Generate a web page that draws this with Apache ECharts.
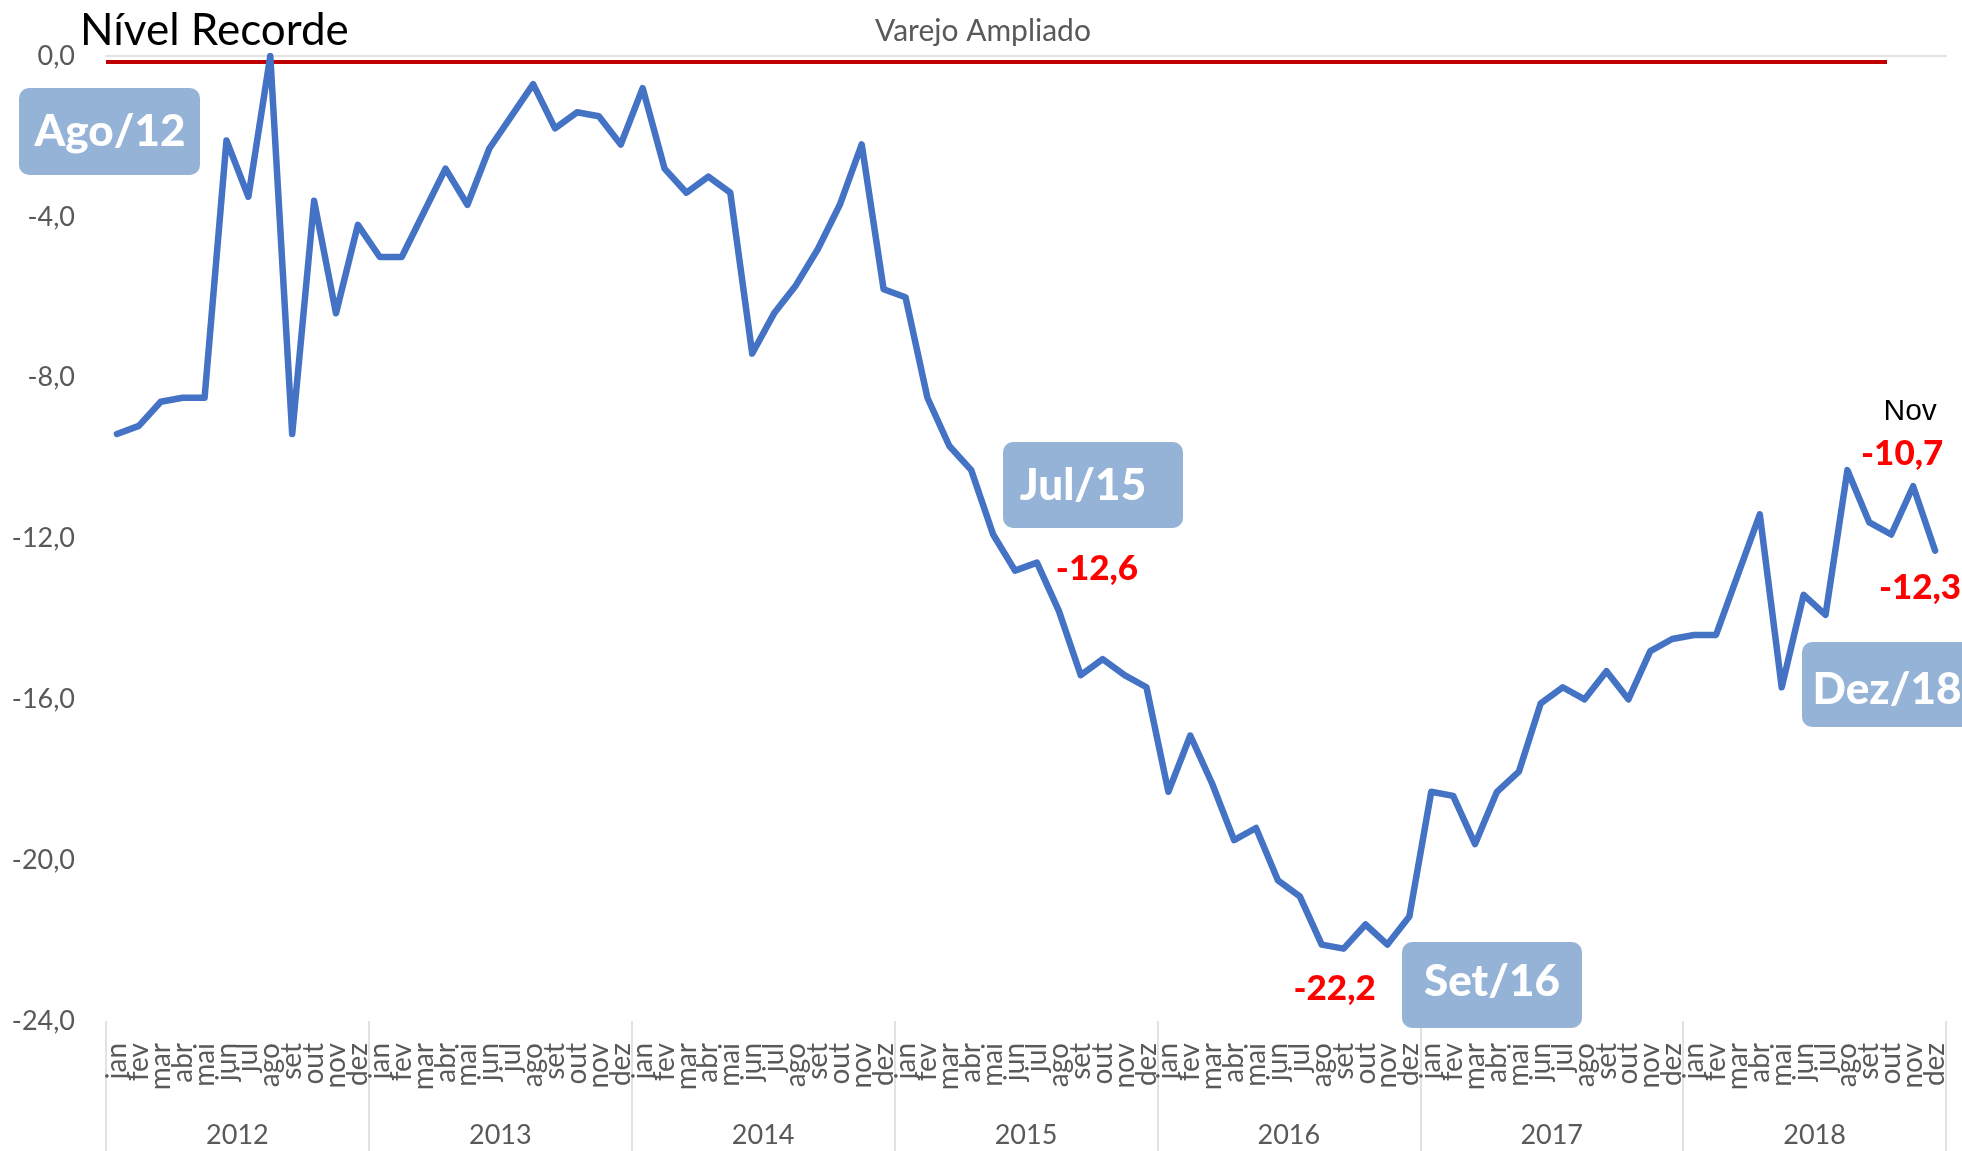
<!DOCTYPE html>
<html>
<head>
<meta charset="utf-8">
<title>Varejo Ampliado</title>
<script src="https://cdn.jsdelivr.net/npm/echarts@6/dist/echarts.min.js"></script>
<style>
  html, body { margin: 0; padding: 0; background: #fff; }
  #chart { width: 1962px; height: 1151px; }
</style>
</head>
<body>
<div id="chart"></div>
<script>
// categories
const years = ['2012', '2013', '2014', '2015', '2016', '2017', '2018']
const months = ['jan', 'fev', 'mar', 'abr', 'mai', 'jun', 'jul', 'ago', 'set', 'out', 'nov', 'dez']

// values, one array per year
const v2012 = [-9.4, -9.2, -8.6, -8.5, -8.5, -2.1, -3.5, 0.0, -9.4, -3.6, -6.4, -4.2]
const v2013 = [-5.0, -5.0, -3.9, -2.8, -3.7, -2.3, -1.5, -0.7, -1.8, -1.4, -1.5, -2.2]
const v2014 = [-0.8, -2.8, -3.4, -3.0, -3.4, -7.4, -6.4, -5.7, -4.8, -3.7, -2.2, -5.8]
const v2015 = [-6.0, -8.5, -9.7, -10.3, -11.9, -12.8, -12.6, -13.8, -15.4, -15.0, -15.4, -15.7]
const v2016 = [-18.3, -16.9, -18.1, -19.5, -19.2, -20.5, -20.9, -22.1, -22.2, -21.6, -22.1, -21.4]
const v2017 = [-18.3, -18.4, -19.6, -18.3, -17.8, -16.1, -15.7, -16.0, -15.3, -16.0, -14.8, -14.5]
const v2018 = [-14.4, -14.4, -12.9, -11.4, -15.7, -13.4, -13.9, -10.3, -11.6, -11.9, -10.7, -12.3]

// y axis range
const yMin = -24
const yMax = 0
const yStep = 4

// points with a red value label (index into the monthly series)
const labeledIdx = [42, 56, 82, 83]
const labelOffsets = { 42: [60, 6], 56: [-9, 40], 82: [-11, -57], 83: [-15, 37] }

const values = [].concat(v2012, v2013, v2014, v2015, v2016, v2017, v2018)
const categories = years.flatMap(() => months)
const fmt = v => v.toFixed(1).replace('.', ',')

const FONT = 'Lato'
const GREY = '#595959'

const seriesData = values.map((v, i) => {
  if (labeledIdx.indexOf(i) < 0) return v
  const isNov = i === 82
  return {
    value: v,
    label: {
      show: true,
      position: 'inside',
      offset: labelOffsets[i],
      formatter: isNov ? '{n|Nov}\n{v|' + fmt(v) + '}' : fmt(v),
      color: '#FF0000',
      fontFamily: FONT,
      fontWeight: 900,
      fontSize: 35,
      rich: isNov ? {
        n: { fontFamily: 'Liberation Sans', fontSize: 30, color: '#000', fontWeight: 'normal', lineHeight: 49, padding: [0, 0, 0, 16] },
        v: { fontFamily: FONT, fontSize: 35, color: '#FF0000', fontWeight: 900, lineHeight: 35 }
      } : undefined
    }
  }
})

const callout = (text, x, y, w, h, tx, ty) => ({
  type: 'group',
  z: 100,
  children: [
    { type: 'rect', shape: { x: x, y: y, width: w, height: h, r: 10 }, style: { fill: '#95B3D7' }, z: 100 },
    { type: 'text', x: tx, y: ty, z: 101, style: { text: text, fill: '#fff', font: '900 44px ' + FONT, align: 'center', verticalAlign: 'middle' } }
  ]
})

const chart = echarts.init(document.getElementById('chart'))
chart.setOption({
  animation: false,
  backgroundColor: '#fff',
  grid: { left: 106, right: 16, top: 56, bottom: 130 },
  xAxis: [
    {
      type: 'category',
      data: categories,
      boundaryGap: true,
      axisLine: { show: false },
      axisTick: { show: false },
      axisLabel: { interval: 0, rotate: 90, margin: 22, fontSize: 28, color: GREY, fontFamily: FONT }
    },
    {
      type: 'category',
      data: years,
      position: 'bottom',
      boundaryGap: true,
      axisLine: { show: false },
      axisTick: { show: true, interval: 0, length: 130, lineStyle: { color: '#D9D9D9', width: 1.5 } },
      axisLabel: { interval: 0, margin: 101, fontSize: 27, color: GREY, fontFamily: FONT }
    },
    {
      type: 'category',
      data: categories,
      position: 'top',
      axisLine: { show: true, onZero: false, lineStyle: { color: '#D9D9D9', width: 1.5 } },
      axisTick: { show: false },
      axisLabel: { show: false }
    }
  ],
  yAxis: {
    type: 'value',
    min: yMin,
    max: yMax,
    interval: yStep,
    axisLine: { show: false },
    axisTick: { show: false },
    splitLine: { show: false },
    axisLabel: { formatter: fmt, margin: 31, fontSize: 27, color: GREY, fontFamily: FONT }
  },
  series: [{
    name: 'Varejo Ampliado',
    type: 'line',
    data: seriesData,
    xAxisIndex: 0,
    symbol: 'circle',
    symbolSize: 0,
    showSymbol: true,
    showAllSymbol: true,
    label: { show: false },
    lineStyle: { color: '#4472C4', width: 6.5, cap: 'round', join: 'round' },
    itemStyle: { color: '#4472C4' },
    emphasis: { disabled: true },
    z: 3
  }],
  graphic: [
    { type: 'line', z: 1, shape: { x1: 106, y1: 62, x2: 1887, y2: 62 }, style: { stroke: '#C00000', lineWidth: 4 } },
    { type: 'text', x: 80, y: 31, z: 100, style: { text: 'Nível Recorde', fill: '#000', font: '44px ' + FONT, verticalAlign: 'middle' } },
    { type: 'text', x: 983, y: 31, z: 100, style: { text: 'Varejo Ampliado', fill: GREY, font: '30px ' + FONT, align: 'center', verticalAlign: 'middle' } },
    callout('Ago/12', 19, 88, 181, 87, 110, 132),
    callout('Jul/15', 1003, 442, 180, 86, 1083, 486),
    callout('Set/16', 1402, 942, 180, 86, 1492, 982),
    callout('Dez/18', 1802, 642, 190, 85, 1887, 690)
  ]
})
</script>
</body>
</html>
